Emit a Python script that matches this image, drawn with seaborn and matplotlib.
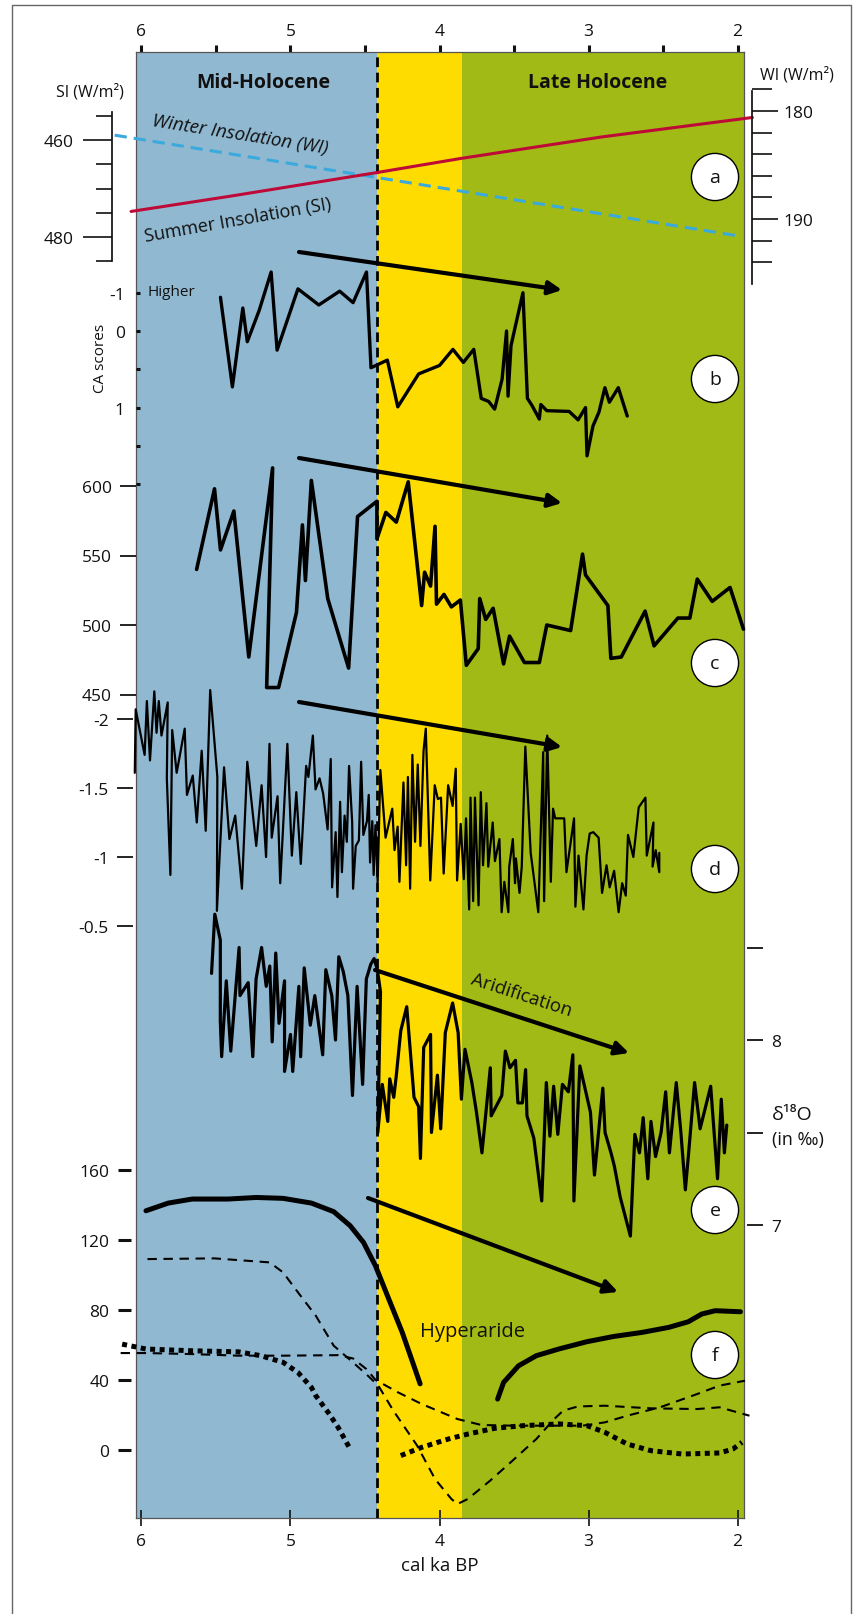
import matplotlib
matplotlib.use("Agg")
import matplotlib.pyplot as plt
import seaborn as sns
from matplotlib.patches import Rectangle

# ---------------- data (ages in cal ka BP) ----------------
BOUNDARY = 4.42          # Mid / Late Holocene limit (dashed line)
HYPER_END = 3.85         # end of the yellow (hyperarid) band

# a) insolation
si_ka = [6.18, 1.99]
si_val = [459.0, 479.8]
wi_ka = [6.07, 5.41, 4.96, 4.42, 3.86, 2.91, 1.90]
wi_val = [189.3, 187.9, 186.9, 185.7, 184.4, 182.4, 180.6]

# b) CA scores
ca_ka = [5.47, 5.39, 5.32, 5.29, 5.21, 5.13, 5.09, 4.95, 4.81, 4.67,
         4.58, 4.49, 4.46, 4.35, 4.28, 4.14, 4.00, 3.91, 3.84, 3.77,
         3.72, 3.67, 3.63, 3.58, 3.55, 3.54, 3.52, 3.49, 3.44, 3.41,
         3.38, 3.33, 3.32, 3.28, 3.13, 3.07, 3.02, 3.01, 2.97, 2.93,
         2.89, 2.86, 2.80, 2.74]
ca_val = [-0.44, 0.73, -0.30, 0.14, -0.27, -0.77, 0.25, -0.55, -0.34, -0.52,
          -0.37, -0.77, 0.48, 0.38, 0.99, 0.56, 0.45, 0.24, 0.41, 0.24,
          0.88, 0.92, 1.02, 0.63, 0.00, 0.85, 0.19, -0.07, -0.50, 0.88,
          0.97, 1.15, 0.96, 1.04, 1.05, 1.16, 1.00, 1.63, 1.24, 1.06,
          0.74, 0.93, 0.74, 1.11]

# c)
c_ka = [5.63, 5.51, 5.47, 5.38, 5.28, 5.12, 5.16, 5.08, 4.96, 4.92,
        4.90, 4.86, 4.75, 4.61, 4.55, 4.42, 4.42, 4.36, 4.29, 4.21,
        4.12, 4.10, 4.06, 4.03, 4.02, 3.97, 3.92, 3.86, 3.82, 3.74,
        3.73, 3.69, 3.64, 3.57, 3.53, 3.43, 3.33, 3.28, 3.12, 3.04,
        3.02, 2.87, 2.85, 2.78, 2.62, 2.56, 2.40, 2.32, 2.27, 2.17,
        2.05, 1.96]
c_val = [540, 598, 554, 582, 477, 613, 455, 455, 509, 572,
         532, 604, 519, 469, 578, 589, 562, 581, 574, 603,
         514, 538, 528, 571, 515, 522, 513, 518, 471, 483,
         519, 504, 512, 472, 492, 473, 473, 500, 496, 551,
         536, 514, 476, 477, 510, 485, 505, 505, 533, 517,
         527, 497]

# d)
d_ka = [6.045, 6.039, 5.979, 5.964, 5.943, 5.914, 5.899, 5.884, 5.866, 5.824,
        5.830, 5.806, 5.794, 5.764, 5.710, 5.695, 5.656, 5.629, 5.596, 5.569,
        5.539, 5.491, 5.494, 5.446, 5.410, 5.371, 5.326, 5.290, 5.230, 5.194,
        5.164, 5.141, 5.126, 5.087, 5.069, 5.021, 4.991, 4.961, 4.931, 4.895,
        4.880, 4.850, 4.832, 4.805, 4.781, 4.751, 4.730, 4.721, 4.697, 4.685,
        4.667, 4.655, 4.637, 4.622, 4.607, 4.586, 4.580, 4.562, 4.541, 4.526,
        4.511, 4.487, 4.475, 4.466, 4.451, 4.442, 4.430, 4.415, 4.397, 4.362,
        4.317, 4.302, 4.281, 4.269, 4.242, 4.224, 4.212, 4.197, 4.182, 4.164,
        4.146, 4.128, 4.107, 4.092, 4.062, 4.032, 4.011, 3.990, 3.972, 3.942,
        3.912, 3.891, 3.882, 3.858, 3.837, 3.822, 3.801, 3.792, 3.774, 3.762,
        3.738, 3.723, 3.708, 3.685, 3.673, 3.643, 3.628, 3.598, 3.583, 3.565,
        3.538, 3.532, 3.508, 3.493, 3.487, 3.463, 3.448, 3.424, 3.388, 3.337,
        3.304, 3.298, 3.277, 3.253, 3.238, 3.223, 3.163, 3.148, 3.097, 3.088,
        3.067, 3.034, 3.013, 2.992, 2.968, 2.932, 2.909, 2.879, 2.858, 2.828,
        2.798, 2.774, 2.750, 2.735, 2.699, 2.663, 2.618, 2.609, 2.564, 2.570,
        2.549, 2.525, 2.525]
d_val = [-1.61, -2.07, -1.74, -2.13, -1.70, -2.20, -1.90, -2.13, -1.88, -2.12,
         -1.57, -0.87, -1.92, -1.61, -1.93, -1.45, -1.59, -1.25, -1.77, -1.19,
         -2.21, -1.58, -0.61, -1.65, -1.13, -1.30, -0.77, -1.69, -1.08, -1.52,
         -1.00, -1.82, -1.14, -1.44, -0.81, -1.82, -1.01, -1.47, -0.95, -1.66,
         -1.58, -1.88, -1.49, -1.57, -1.46, -1.20, -1.71, -0.78, -1.18, -0.71,
         -1.40, -0.89, -1.30, -1.11, -1.66, -1.25, -0.77, -1.08, -1.12, -1.69,
         -1.16, -1.26, -1.45, -0.96, -1.26, -0.87, -1.23, -0.82, -1.63, -1.14,
         -1.35, -1.05, -1.22, -0.82, -1.54, -0.94, -1.58, -0.77, -1.74, -1.11,
         -1.67, -1.08, -1.77, -1.93, -0.83, -1.52, -1.42, -1.43, -0.88, -1.52,
         -1.37, -1.64, -0.83, -1.24, -0.84, -1.28, -0.62, -1.43, -0.68, -1.43,
         -0.65, -1.47, -0.94, -1.39, -0.93, -1.25, -0.97, -1.13, -0.60, -0.82,
         -0.60, -0.93, -1.13, -0.81, -0.99, -0.74, -0.93, -1.80, -1.03, -0.60,
         -1.76, -0.68, -1.88, -0.82, -1.35, -1.28, -1.28, -0.89, -1.28, -0.64,
         -1.01, -0.62, -1.01, -1.17, -1.18, -1.14, -0.74, -0.94, -0.78, -0.90,
         -0.60, -0.81, -0.72, -1.16, -1.00, -1.36, -1.43, -1.01, -1.25, -0.93,
         -1.05, -0.89, -1.03]

# e) d18O
e_ka = [5.530, 5.508, 5.471, 5.471, 5.462, 5.431, 5.401, 5.345, 5.339, 5.284,
        5.253, 5.231, 5.194, 5.163, 5.139, 5.123, 5.099, 5.077, 5.040, 5.040,
        5.000, 4.985, 4.944, 4.932, 4.908, 4.867, 4.837, 4.784, 4.763, 4.723,
        4.698, 4.676, 4.646, 4.615, 4.584, 4.553, 4.516, 4.491, 4.461, 4.439,
        4.417, 4.396, 4.414, 4.384, 4.347, 4.334, 4.307, 4.291, 4.260, 4.220,
        4.171, 4.140, 4.128, 4.106, 4.060, 4.054, 4.014, 3.992, 3.961, 3.912,
        3.875, 3.853, 3.829, 3.783, 3.752, 3.715, 3.659, 3.653, 3.582, 3.558,
        3.527, 3.490, 3.474, 3.444, 3.422, 3.413, 3.367, 3.314, 3.283, 3.259,
        3.234, 3.206, 3.175, 3.135, 3.105, 3.098, 3.058, 2.987, 2.960, 2.904,
        2.889, 2.849, 2.827, 2.787, 2.719, 2.689, 2.658, 2.633, 2.602, 2.581,
        2.550, 2.513, 2.482, 2.457, 2.411, 2.380, 2.350, 2.328, 2.288, 2.251,
        2.180, 2.134, 2.109, 2.088, 2.072]
e_val = [8.36, 8.68, 8.54, 8.10, 7.91, 8.32, 7.94, 8.50, 8.24, 8.31,
         7.91, 8.33, 8.50, 8.29, 8.40, 7.99, 8.47, 8.09, 8.32, 7.83,
         8.03, 7.83, 8.29, 7.91, 8.39, 8.08, 8.24, 7.92, 8.38, 8.24,
         8.00, 8.45, 8.37, 8.24, 7.70, 8.29, 7.76, 8.33, 8.41, 8.44,
         8.38, 8.26, 7.50, 7.76, 7.56, 7.79, 7.69, 7.80, 8.05, 8.18,
         7.69, 7.64, 7.36, 7.96, 8.03, 7.50, 7.81, 7.52, 8.04, 8.20,
         8.04, 7.68, 7.95, 7.77, 7.61, 7.39, 7.85, 7.59, 7.70, 7.94,
         7.85, 7.89, 7.66, 7.66, 7.84, 7.59, 7.47, 7.13, 7.77, 7.48,
         7.75, 7.49, 7.76, 7.72, 7.92, 7.13, 7.86, 7.61, 7.27, 7.74,
         7.50, 7.39, 7.32, 7.15, 6.94, 7.49, 7.39, 7.58, 7.25, 7.56,
         7.37, 7.50, 7.72, 7.39, 7.77, 7.50, 7.19, 7.39, 7.77, 7.52,
         7.75, 7.25, 7.68, 7.39, 7.54]

# f) lake / vegetation curves
f_mid_ka = [5.97, 5.82, 5.66, 5.42, 5.23, 5.05, 4.86, 4.71, 4.60, 4.51, 4.43, 4.34, 4.25, 4.18, 4.13]
f_mid = [136.7, 141.1, 143.4, 143.4, 144.3, 143.8, 141.1, 136.2, 128.2, 118.6, 105.3, 86.2, 67.2, 50.1, 37.8]
f_late_ka = [3.61, 3.57, 3.47, 3.35, 3.20, 3.01, 2.83, 2.64, 2.46, 2.33, 2.24, 2.15, 1.98]
f_late = [29.1, 38.6, 48.1, 53.9, 57.7, 61.9, 64.9, 67.2, 70.1, 73.3, 77.7, 79.6, 79.0]
f_dash1_ka = [5.96, 5.51, 5.14, 5.05, 4.95, 4.83, 4.71, 4.58, 4.48, 4.41,
              4.31, 4.15, 4.03, 3.92, 3.88, 3.81, 3.66, 3.51, 3.35, 3.23,
              3.17, 3.07, 2.89, 2.58, 2.27, 2.12, 1.92]
f_dash1 = [109.1, 109.5, 107.2, 101.5, 90.1, 76.7, 59.6, 50.0, 42.4, 36.7,
           22.5, 2.5, -16.6, -28.0, -30.9, -28.0, -17.5, -6.1, 6.3, 17.7,
           22.5, 24.9, 25.3, 23.8, 23.4, 24.4, 19.6]
f_dash2_ka = [6.14, 5.97, 5.66, 5.35, 5.05, 4.68, 4.58, 4.49, 4.43, 4.28,
              4.12, 3.88, 3.72, 3.51, 3.20, 3.04, 2.89, 2.74, 2.52, 2.27,
              2.12, 1.95]
f_dash2 = [55.4, 55.4, 54.8, 53.9, 53.9, 54.2, 52.3, 46.2, 40.1, 33.0,
           26.3, 17.7, 14.3, 13.9, 13.9, 13.9, 15.8, 19.6, 24.4, 32.0,
           36.8, 39.6]
f_dot1_ka = [6.13, 5.97, 5.66, 5.35, 5.20, 5.05, 4.95, 4.86, 4.83, 4.74, 4.68, 4.60]
f_dot1 = [60.5, 57.7, 56.7, 56.1, 53.9, 50.1, 44.3, 35.8, 31.0, 20.6, 12.9, 0.6]
f_dot2_ka = [4.26, 4.12, 3.94, 3.81, 3.63, 3.44, 3.20, 3.01, 2.89, 2.74, 2.58, 2.37, 2.12, 2.03, 1.97]
f_dot2 = [-3.2, 1.5, 6.3, 9.1, 12.4, 13.9, 14.9, 13.9, 10.1, 3.4, -0.4, -2.3, -1.7, 0.6, 4.4]

age_ticks = [6, 5, 4, 3, 2]

# ---------------- layout ----------------
sns.set_theme(style="white")
plt.rcParams["font.family"] = ["Open Sans", "DejaVu Sans"]

W, H = 858, 1615
L, R, T, B = 136, 744, 53, 1519          # colour band in pixels
X0, X1 = 6.0369, 1.9564                   # ages at its left / right edge
RECT = [L / W, 1 - B / H, (R - L) / W, (B - T) / H]
BLUE, YELLOW, GREEN = "#90b9d1", "#ffdc00", "#a1ba15"
INK = "#111111"
TICK_FS = 12.5

fig = plt.figure(figsize=(W / 100, H / 100), dpi=100)
fig.add_artist(Rectangle((12 / W, -0.01), (851 - 12) / W, 1.01 - 6 / H,
                         transform=fig.transFigure, fill=False, ec="#666666", lw=1))

base = fig.add_axes(RECT, label="base")
base.set_xlim(X0, X1)
base.set_ylim(0, 1)
base.axvspan(X0, BOUNDARY, color=BLUE, lw=0, zorder=0)
base.axvspan(BOUNDARY, HYPER_END, color=YELLOW, lw=0, zorder=0)
base.axvspan(HYPER_END, X1, color=GREEN, lw=0, zorder=0)
base.axvline(BOUNDARY, color="black", lw=2, ls=(0, (3.5, 2)), zorder=3)
base.set_yticks([])
base.set_xticks(age_ticks)
base.tick_params(axis="x", bottom=True, direction="inout", length=11.5, width=1.2,
                 labelsize=TICK_FS, pad=5, colors=INK)
for s in base.spines.values():
    s.set_color("#555555")
    s.set_linewidth(0.9)
base.set_xlabel("cal ka BP", fontsize=13.5, labelpad=5, color=INK)

top = base.secondary_xaxis("top")
top.set_xticks(age_ticks)
top.set_xticks([5.5, 4.5, 3.5, 2.5], minor=True)
top.tick_params(which="both", direction="out", length=5, width=2.2, labelsize=TICK_FS, pad=4.5, colors=INK)
top.spines["top"].set_visible(False)


def panel(name, y0, v0, k):
    """transparent overlay where value v sits on pixel row y0 + k*(v - v0)"""
    ax = fig.add_axes(RECT, label=name, facecolor="none")
    ax.set_xlim(X0, X1)
    ax.set_ylim(v0 + (B - y0) / k, v0 + (T - y0) / k)
    ax.set_xticks([])
    for s in ax.spines.values():
        s.set_visible(False)
    ax.tick_params(axis="y", which="both", left=False, right=False, labelleft=False,
                   labelright=False, colors=INK, labelsize=TICK_FS)
    return ax


def trace(ax, x, y, **kw):
    sns.lineplot(x=x, y=y, ax=ax, sort=False, estimator=None, clip_on=False, **kw)


# a) summer insolation (left scale) and winter insolation (right scale)
ax_si = panel("si", 141, 460, 4.85)
trace(ax_si, si_ka, si_val, color="#3aa9dc", lw=2.2, ls=(0, (4, 2.3)))
ax_si.spines["left"].set_visible(True)
ax_si.spines["left"].set_position(("outward", 17.3))
ax_si.spines["left"].set_bounds(454.3, 484.9)
ax_si.spines["left"].set_color(INK)
ax_si.set_yticks([460, 480])
ax_si.set_yticks([455, 465, 470, 475, 485], minor=True)
ax_si.tick_params(axis="y", which="major", left=True, labelleft=True, length=20.9, width=1.2, pad=7)
ax_si.tick_params(axis="y", which="minor", left=True, length=11.5, width=1.2)

ax_wi = panel("wi", 112, 180, 10.8)
trace(ax_wi, wi_ka, wi_val, color="#be0a37", lw=2.2)
ax_wi.spines["right"].set_visible(True)
ax_wi.spines["right"].set_position(("outward", 5.8))
ax_wi.spines["right"].set_bounds(178.15, 196)
ax_wi.spines["right"].set_color(INK)
ax_wi.set_yticks([180, 190])
ax_wi.set_yticks([178, 182, 184, 186, 188, 192, 194], minor=True)
ax_wi.tick_params(axis="y", which="major", right=True, labelright=True, length=18.5, width=1.2, pad=4)
ax_wi.tick_params(axis="y", which="minor", right=True, length=14.4, width=1.2)

# b) CA scores
ax_b = panel("b", 332, 0, 76.6)
trace(ax_b, ca_ka, ca_val, color="black", lw=2.4)
ax_b.set_yticks([-0.5, 0, 0.5, 1, 1.5, 2])
ax_b.set_yticklabels(["-1", "0", "", "1", "", ""])
ax_b.tick_params(axis="y", left=True, labelleft=True, direction="in", length=3, width=2.2, pad=8)

# c)
ax_c = panel("c", 487, 600, -1.39)
trace(ax_c, c_ka, c_val, color="black", lw=2.6)
ax_c.set_yticks([450, 500, 550, 600])
ax_c.tick_params(axis="y", left=True, labelleft=True, direction="out", length=11.5, width=1.3, pad=6)

# d)
ax_d = panel("d", 720, -2, 138)
trace(ax_d, d_ka, d_val, color="black", lw=1.6)
ax_d.spines["left"].set_position(("outward", 2.2))
ax_d.set_yticks([-2, -1.5, -1, -0.5])
ax_d.set_yticklabels(["-2", "-1.5", "-1", "-0.5"])
ax_d.tick_params(axis="y", left=True, labelleft=True, direction="out", length=11.5, width=1.3, pad=6)

# e) d18O (right scale)
ax_e = panel("e", 1041, 8, -185)
trace(ax_e, e_ka, e_val, color="black", lw=2.3)
ax_e.spines["right"].set_position(("outward", 2.2))
ax_e.set_yticks([7, 7.5, 8, 8.5])
ax_e.set_yticklabels(["7", "", "8", ""])
ax_e.tick_params(axis="y", right=True, labelright=True, direction="out", length=11.5, width=1.3, pad=6)

# f)
ax_f = panel("f", 1451, 0, -1.75)
trace(ax_f, f_mid_ka, f_mid, color="black", lw=3.6, solid_capstyle="round")
trace(ax_f, f_late_ka, f_late, color="black", lw=3.6, solid_capstyle="round")
trace(ax_f, f_dash1_ka, f_dash1, color="black", lw=1.5, ls=(0, (4.5, 3.2)))
trace(ax_f, f_dash2_ka, f_dash2, color="black", lw=1.5, ls=(0, (4.5, 3.2)))
trace(ax_f, f_dot1_ka, f_dot1, color="black", lw=3.6, ls=(0, (1, 0.9)), dash_capstyle="butt")
trace(ax_f, f_dot2_ka, f_dot2, color="black", lw=3.6, ls=(0, (1, 0.9)), dash_capstyle="butt")
ax_f.spines["left"].set_position(("outward", 3.6))
ax_f.set_yticks([0, 40, 80, 120, 160])
ax_f.tick_params(axis="y", left=True, labelleft=True, direction="out", length=9.4, width=2.2, pad=6)

# ---------------- annotations (pixel coordinates) ----------------
ann = fig.add_axes(RECT, label="notes", facecolor="none")
ann.set_xlim(L, R)
ann.set_ylim(B, T)
ann.axis("off")

ann.text(263, 83, "Mid-Holocene", ha="center", va="center", fontsize=14, fontweight="bold", color=INK)
ann.text(598, 83, "Late Holocene", ha="center", va="center", fontsize=14, fontweight="bold", color=INK)
ann.text(90, 92, "SI (W/m²)", ha="center", va="center", fontsize=11.5, color=INK)
ann.text(797, 75, "WI (W/m²)", ha="center", va="center", fontsize=11.5, color=INK)
ann.text(240, 135, "Winter Insolation (WI)", ha="center", va="center", fontsize=13.5,
         style="italic", rotation=-9, rotation_mode="anchor", color=INK)
ann.text(238, 221, "Summer Insolation (SI)", ha="center", va="center", fontsize=13,
         rotation=10, rotation_mode="anchor", color=INK)
ann.text(147, 293, "Higher", ha="left", va="center", fontsize=11, color=INK)
ann.text(100, 358, "CA scores", ha="center", va="center", fontsize=11, rotation=90, color=INK)
ann.text(521, 995, "Aridification", ha="center", va="center", fontsize=13.5,
         rotation=-18, rotation_mode="anchor", color=INK)
ann.text(473, 1332, "Hyperaride", ha="center", va="center", fontsize=14.5, color=INK)
ann.text(772, 1115, "δ¹⁸O", ha="left", va="center", fontsize=14, color=INK)
ann.text(772, 1140, "(in ‰)", ha="left", va="center", fontsize=13, color=INK)

arrows = [((299, 253), (562, 291)), ((299, 459), (562, 504)), ((299, 703), (562, 748)),
          ((375, 971), (629, 1054)), ((368, 1199), (618, 1293))]
for start, end in arrows:
    ann.annotate("", xy=end, xytext=start, annotation_clip=False,
                 arrowprops=dict(arrowstyle="-|>", color="black", lw=3, mutation_scale=20,
                                 shrinkA=0, shrinkB=0))

for letter, row in zip("abcdef", [178, 380, 664, 870, 1211, 1356]):
    ann.text(715, row, letter, ha="center", va="center", fontsize=14, color=INK,
             bbox=dict(boxstyle="circle,pad=0.75", fc="white", ec="black", lw=1))

fig.savefig("out.png", dpi=100)
